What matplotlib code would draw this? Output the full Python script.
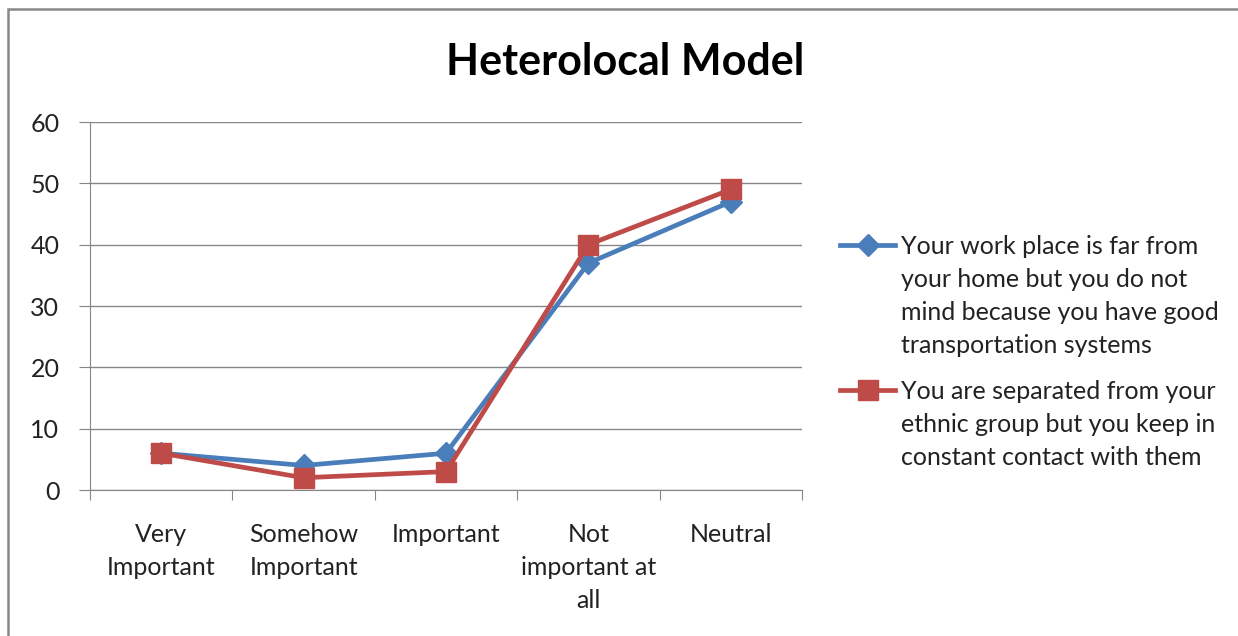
import matplotlib
matplotlib.use("Agg")
import matplotlib.pyplot as plt
from matplotlib.lines import Line2D
from matplotlib.patches import Rectangle

categories = ["Very\nImportant", "Somehow\nImportant", "Important", "Not\nimportant at\nall", "Neutral"]
work_place = [6, 4, 6, 37, 47]
ethnic_group = [6, 2, 3, 40, 49]
labels = [
    "Your work place is far from\nyour home but you do not\nmind because you have good\ntransportation systems",
    "You are separated from your\nethnic group but you keep in\nconstant contact with them",
]

plt.rcParams["font.family"] = ["Lato", "DejaVu Sans"]
blue = "#4A7EBB"
red = "#BE4B48"
grid_col = "#868686"
txt_col = "#222222"

W, H = 1238, 636
fig = plt.figure(figsize=(W / 100, H / 100), dpi=100)
ax = fig.add_axes([90 / W, 1 - 490 / H, 712 / W, 368 / H])

x = list(range(len(categories)))
ax.plot(x, work_place, color=blue, lw=3.4, marker="D", markersize=11, label=labels[0], zorder=3)
ax.plot(x, ethnic_group, color=red, lw=3.4, marker="s", markersize=14, label=labels[1], zorder=3)

ax.set_xlim(-0.5, len(categories) - 0.5)
ax.set_ylim(0, 60)
ax.set_yticks(range(0, 61, 10))
ax.yaxis.grid(True, color=grid_col, lw=1)
ax.set_axisbelow(True)
for s in ["top", "right"]:
    ax.spines[s].set_visible(False)
for s in ["left", "bottom"]:
    ax.spines[s].set_color(grid_col)
ax.tick_params(axis="y", length=8, color=grid_col, pad=14, labelsize=18, labelcolor=txt_col)

ax.set_xticks([i - 0.5 for i in range(len(categories) + 1)])
ax.set_xticklabels([])
ax.tick_params(axis="x", which="major", length=7, color=grid_col)
ax.set_xticks(x, minor=True)
ax.set_xticklabels(categories, minor=True, fontsize=18, color=txt_col, linespacing=1.52)
ax.tick_params(axis="x", which="minor", length=0, pad=24)

fig.text(625 / W, 1 - 62 / H, "Heterolocal Model", ha="center", va="center",
         fontsize=31, fontweight="bold", color="#000000")

# legend drawn by hand so handles line up with first text row
leg_rows = [245, 390]
for row, lab, col, mk, ms in zip(leg_rows, labels, [blue, red], ["D", "s"], [11, 14]):
    yy = 1 - row / H
    fig.add_artist(Line2D([840 / W, 895 / W], [yy, yy], color=col, lw=3.4, transform=fig.transFigure))
    fig.add_artist(Line2D([867.5 / W], [yy], color=col, marker=mk, markersize=ms, lw=0, transform=fig.transFigure))
    fig.text(901 / W, 1 - (row - 10) / H, lab, ha="left", va="top", fontsize=18, color=txt_col,
             linespacing=1.52, transform=fig.transFigure)

fig.add_artist(Rectangle((8 / W, -0.1), 1.2, 1 - 9 / H + 0.1, transform=fig.transFigure,
                         fill=False, edgecolor="#888888", lw=1.8))

fig.savefig("out.png", dpi=100)
